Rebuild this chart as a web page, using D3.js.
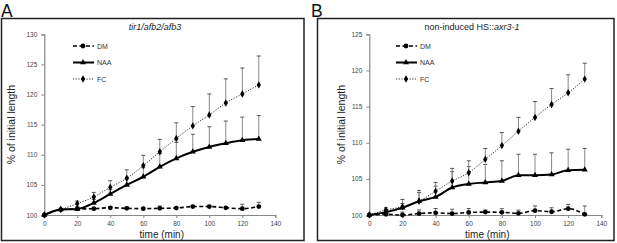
<!DOCTYPE html>
<html><head><meta charset="utf-8">
<script src="https://cdn.jsdelivr.net/npm/d3@7"></script>
<style>body{margin:0;background:#fff}svg{display:block;font-family:"Liberation Sans",Arial,sans-serif}</style>
</head><body><svg id="c" width="617" height="243"></svg>
<script>
const times = [0,10,20,30,40,50,60,70,80,90,100,110,120,130];
const xTicks = [0,20,40,60,80,100,120,140];
const seriesNames = ["DM","NAA","FC"];

const A_DM = [100,100.9,101.0,101.05,101.2,101.1,101.05,101.1,101.15,101.4,101.4,101.2,101.05,101.4];
const A_DM_err = [0,0.1,0.2,0.2,0.2,0.2,0.2,0.4,0.2,0.2,0.2,0.2,0.75,0.7];
const A_NAA = [100,100.9,101.0,102.0,103.5,105.0,106.35,108.0,109.4,110.5,111.3,111.9,112.4,112.6];
const A_NAA_err = [0,0.1,0.4,0.6,0.7,1.0,1.5,2.2,2.65,2.9,3.35,3.7,3.85,3.9];
const A_FC = [100,100.9,101.9,103.0,104.6,106.1,108.2,110.5,112.7,114.8,116.6,118.6,120.1,121.6];
const A_FC_err = [0,0.1,0.4,0.75,1.1,1.4,1.7,2.05,2.6,3.2,3.5,4.0,4.3,4.8];
const A_yTicks = [100,105,110,115,120,125,130];

const B_DM = [100,100.1,100.0,100.2,100.3,100.2,100.35,100.4,100.37,100.23,100.6,100.45,100.87,100.1];
const B_DM_err = [0,0.2,0.4,0.5,0.6,0.6,0.55,0.3,0.5,0.45,0.65,0.55,0.6,1.15];
const B_NAA = [100,100.4,101.0,101.9,102.5,103.8,104.3,104.5,104.7,105.5,105.5,105.6,106.2,106.25];
const B_NAA_err = [0,0.3,0.6,1.2,1.5,2.2,2.4,2.5,2.8,2.9,2.9,3.0,2.9,2.95];
const B_FC = [100,100.7,101.15,101.9,103.3,104.7,105.85,107.7,109.6,111.6,113.5,115.3,116.9,118.8];
const B_FC_err = [0,0.3,1.0,1.5,1.2,1.75,1.65,1.5,1.8,1.9,2.2,2.2,2.5,2.2];
const B_yTicks = [100,105,110,115,120,125];

const svg = d3.select("#c");

const styles = {
  DM:  {dash:"4,2.5", width:1.6, color:"#000", marker:"circle"},
  NAA: {dash:null, width:2, color:"#000", marker:"triangle"},
  FC:  {dash:"1.2,1.5", width:1, color:"#333", marker:"diamond"}
};
function markerPath(type){
  if(type==="circle") return d3.symbol(d3.symbolCircle, 18)();
  if(type==="triangle") return d3.symbol(d3.symbolTriangle, 16)();
  return d3.symbol(d3.symbolDiamond, 16)();
}

function panel(cfg){
  const g = svg.append("g");
  g.append("rect").attr("x",cfg.frame[0]).attr("y",cfg.frame[1])
    .attr("width",cfg.frame[2]).attr("height",cfg.frame[3])
    .attr("fill","none").attr("stroke","#222").attr("stroke-width",1.5);
  g.append("text").attr("x",cfg.letterX).attr("y",16.5).attr("font-size",17.5)
    .attr("fill","#111").text(cfg.letter);
  const x = d3.scaleLinear().domain([0,140]).range([cfg.x0,cfg.x1]);
  const y = d3.scaleLinear().domain([100,cfg.yMax]).range([215,34.3]);
  const ax = g.append("g").attr("transform",`translate(0,${y(100)})`)
    .call(d3.axisBottom(x).tickValues(xTicks).tickSize(3).tickPadding(3));
  const ay = g.append("g").attr("transform",`translate(${x(0)},0)`)
    .call(d3.axisLeft(y).tickValues(cfg.yTicks).tickSize(3).tickPadding(4));
  [ax,ay].forEach(a=>{
    a.select(".domain").attr("stroke","#888").attr("stroke-width",1.2);
    a.selectAll(".tick line").attr("stroke","#888");
    a.selectAll(".tick text").attr("font-size",6.5).attr("fill","#444")
      .attr("font-family","Liberation Sans, Arial, sans-serif");
  });
  const t = g.append("text").attr("x",cfg.titleX).attr("y",30).attr("text-anchor","middle")
    .attr("font-size",9).attr("fill","#222");
  cfg.title.forEach(p=>t.append("tspan").attr("font-style",p[1]?"italic":"normal").text(p[0]));
  g.append("text").attr("x",(x(0)+x(140))/2+2).attr("y",237.5).attr("text-anchor","middle")
    .attr("font-size",10).attr("fill","#222").text("time (min)");
  g.append("text").attr("transform",`translate(${cfg.yLabelX},${(y(100)+y(cfg.yMax))/2}) rotate(-90)`)
    .attr("text-anchor","middle").attr("font-size",10.5).attr("fill","#222").text("% of initial length");
  const data = {DM:[cfg.DM,cfg.DM_err],NAA:[cfg.NAA,cfg.NAA_err],FC:[cfg.FC,cfg.FC_err]};
  ["DM","NAA","FC"].forEach(s=>{
    const [v,e]=data[s];
    times.forEach((tm,i)=>{
      if(e[i]<=0.05) return;
      g.append("line").attr("x1",x(tm)).attr("x2",x(tm)).attr("y1",y(v[i])).attr("y2",y(v[i]+e[i]))
        .attr("stroke","#888").attr("stroke-width",1);
      g.append("line").attr("x1",x(tm)-2).attr("x2",x(tm)+2).attr("y1",y(v[i]+e[i])).attr("y2",y(v[i]+e[i]))
        .attr("stroke","#444").attr("stroke-width",0.9);
    });
  });
  const line = d3.line().x((d,i)=>x(times[i])).y(d=>y(d)).curve(d3.curveMonotoneX);
  ["FC","NAA","DM"].forEach(s=>{
    const st=styles[s], v=data[s][0];
    g.append("path").attr("d",line(v)).attr("fill","none").attr("stroke",st.color)
      .attr("stroke-width",st.width).attr("stroke-dasharray",st.dash);
    g.selectAll(null).data(v).enter().append("path")
      .attr("transform",(d,i)=>`translate(${x(times[i])},${y(d)})`)
      .attr("d",markerPath(st.marker)).attr("fill","#000");
  });
  seriesNames.forEach((s,i)=>{
    const st=styles[s], ly=[46,62.5,79][i];
    g.append("line").attr("x1",cfg.legX).attr("x2",cfg.legX+21).attr("y1",ly).attr("y2",ly)
      .attr("stroke",st.color).attr("stroke-width",st.width).attr("stroke-dasharray",st.dash);
    g.append("path").attr("transform",`translate(${cfg.legX+10},${ly})`).attr("d",markerPath(st.marker)).attr("fill","#000");
    g.append("text").attr("x",cfg.legX+24).attr("y",ly+2.5).attr("font-size",7).attr("fill","#333").text(s);
  });
}

panel({letter:"A",letterX:1,frame:[1.5,18.5,302.5,222],x0:44.3,x1:275.3,yMax:130,yTicks:A_yTicks,
  title:[["tir1/afb2/afb3",true]],titleX:155,yLabelX:15,legX:73,
  DM:A_DM,DM_err:A_DM_err,NAA:A_NAA,NAA_err:A_NAA_err,FC:A_FC,FC_err:A_FC_err});
panel({letter:"B",letterX:311,frame:[317.5,18.5,296.5,222],x0:369.3,x1:601.3,yMax:125,yTicks:B_yTicks,
  title:[["non-induced HS::",false],["axr3-1",true]],titleX:472,yLabelX:345,legX:396,
  DM:B_DM,DM_err:B_DM_err,NAA:B_NAA,NAA_err:B_NAA_err,FC:B_FC,FC_err:B_FC_err});
</script></body></html>
